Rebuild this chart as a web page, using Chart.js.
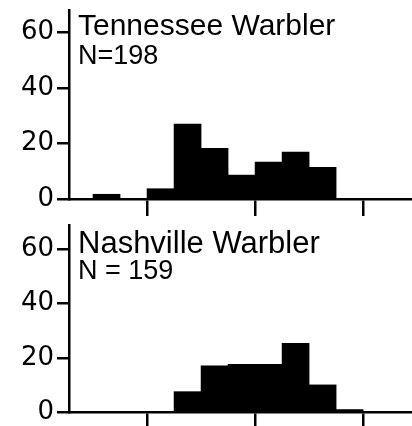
<!DOCTYPE html>
<html>
<head>
<meta charset="utf-8">
<script src="https://cdn.jsdelivr.net/npm/chart.js@4"></script>
<style>
  body { margin: 0; background: #fff; }
  #wrap { position: relative; width: 412px; height: 426px; }
  #wrap canvas { position: absolute; left: 0; top: 0; }
</style>
</head>
<body>
<div id="wrap">
  <canvas id="tennessee" width="412" height="426"></canvas>
  <canvas id="nashville" width="412" height="426"></canvas>
</div>
<script>
// histogram bins (index of the bin along the x axis)
const bins = [1, 2, 3, 4, 5, 6, 7, 8, 9, 10, 11, 12];
const tennesseeValues = [1.7, 0, 3.7, 27, 18.2, 8.6, 13.3, 16.9, 11.4, 0, 0, 0];
const nashvilleValues = [0, 0, 0, 7.5, 17, 17.6, 17.6, 25.3, 10, 0.9, 0, 0];
const tennesseeTitle = ['Tennessee Warbler', 'N=198'];
const nashvilleTitle = ['Nashville Warbler', 'N = 159'];
const yTicks = [0, 20, 40, 60];
const xTicks = [3, 7, 11];

// draws the species name and sample size inside the plot area
const panelTitle = {
    id: 'panelTitle',
    afterDraw(chart, args, opts) {
        const ctx = chart.ctx;
        const area = chart.chartArea;
        ctx.save();
        ctx.fillStyle = '#000';
        ctx.textAlign = 'left';
        ctx.textBaseline = 'alphabetic';
        ctx.font = opts.size + 'px "Liberation Sans"';
        ctx.fillText(opts.lines[0], area.left + 9, area.top + opts.first);
        ctx.font = '27px "Liberation Sans"';
        ctx.fillText(opts.lines[1], area.left + 9, area.top + opts.second);
        ctx.restore();
    }
};

function makeChart(id, values, lines, setup) {
    const ctx = document.getElementById(id).getContext('2d');
    const points = bins.map((b, i) => ({ x: b + 0.5, y: values[i] }));

    return new Chart(ctx, {
        type: 'bar',
        data: {
            datasets: [{
                data: points,
                backgroundColor: '#000',
                borderWidth: 0,
                barPercentage: 1,
                categoryPercentage: 1
            }]
        },
        options: {
            responsive: false,
            animation: false,
            layout: { padding: { left: 0, right: 0, top: setup.top, bottom: setup.bottom } },
            plugins: {
                legend: { display: false },
                tooltip: { enabled: false },
                panelTitle: { lines: lines, first: setup.first, second: setup.second, size: setup.titleSize }
            },
            scales: {
                x: {
                    type: 'linear',
                    offset: false,
                    bounds: 'data',
                    min: 0.11,
                    max: 12.81,
                    afterBuildTicks: scale => { scale.ticks = xTicks.map(v => ({ value: v })); },
                    afterFit: scale => {
                        scale.height = setup.xTick;
                        scale.paddingLeft = 0;
                        scale.paddingRight = 0;
                    },
                    ticks: { callback: () => '' },
                    grid: { offset: false, drawOnChartArea: false, color: '#000', lineWidth: 2.5, tickLength: setup.xTick },
                    border: { display: true, color: '#000', width: 2.5 }
                },
                y: {
                    min: 0,
                    max: setup.yMax,
                    afterBuildTicks: scale => { scale.ticks = yTicks.map(v => ({ value: v })); },
                    afterFit: scale => {
                        scale.width = 69;
                        scale.paddingTop = 0;
                        scale.paddingBottom = 0;
                    },
                    ticks: {
                        color: '#000',
                        padding: 3,
                        font: { family: 'DejaVu Sans', size: 26 }
                    },
                    grid: { drawOnChartArea: false, color: '#000', lineWidth: 2.5, tickLength: 12 },
                    border: { display: true, color: '#000', width: 2.5 }
                }
            }
        },
        plugins: [panelTitle]
    });
}

makeChart('tennessee', tennesseeValues, tennesseeTitle,
    { top: 10, bottom: 210, xTick: 17, yMax: 68, first: 25, second: 54, titleSize: 30 });
makeChart('nashville', nashvilleValues, nashvilleTitle,
    { top: 225, bottom: 0, xTick: 14, yMax: 69, first: 28, second: 54, titleSize: 31 });
</script>
</body>
</html>
